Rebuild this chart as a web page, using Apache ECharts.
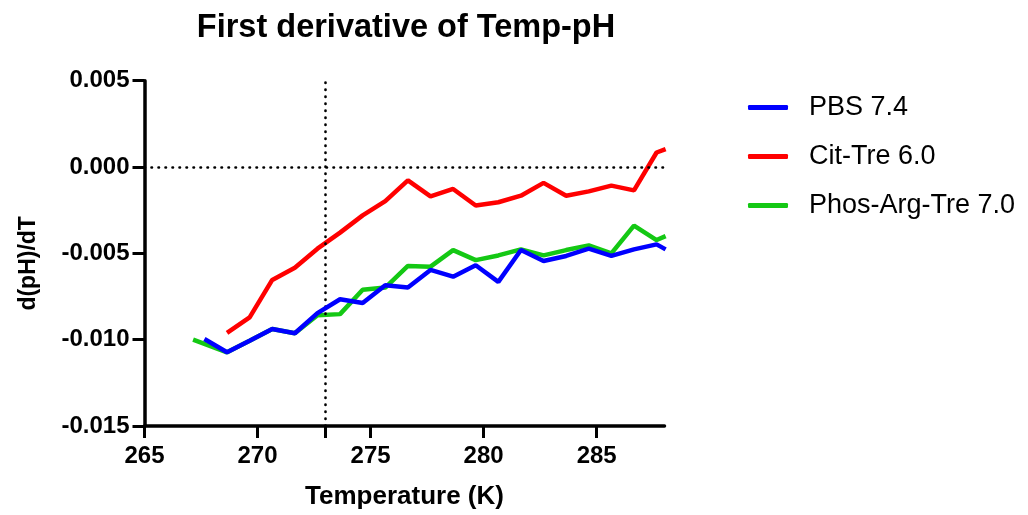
<!DOCTYPE html>
<html>
<head>
<meta charset="utf-8">
<script src="https://cdn.jsdelivr.net/npm/echarts@6/dist/echarts.min.js"></script>
<style>html,body{margin:0;padding:0;background:#fff}#c{width:1028px;height:515px}</style>
</head>
<body>
<div id="c"></div>
<script>
var seriesNames = ['PBS 7.4', 'Cit-Tre 6.0', 'Phos-Arg-Tre 7.0'];
var pbsTemp = [267.65,268.65,269.65,270.65,271.65,272.65,273.65,274.65,275.65,276.65,277.65,278.65,279.65,280.65,281.65,282.65,283.65,284.65,285.65,286.65,287.65,288.05];
var pbsVal = [-0.00996,-0.01073,-0.01006,-0.00938,-0.00963,-0.00846,-0.00766,-0.00788,-0.00685,-0.00698,-0.00596,-0.00635,-0.00569,-0.00665,-0.00481,-0.00544,-0.00515,-0.00473,-0.00515,-0.00477,-0.00448,-0.00477];
var citTemp = [268.65,269.65,270.65,271.65,272.65,273.65,274.65,275.65,276.65,277.65,278.65,279.65,280.65,281.65,282.65,283.65,284.65,285.65,286.65,287.65,288.05];
var citVal = [-0.00961,-0.00871,-0.00654,-0.00583,-0.00473,-0.00380,-0.00280,-0.00198,-0.00077,-0.00170,-0.00127,-0.00223,-0.00204,-0.00166,-0.00092,-0.00166,-0.00141,-0.00108,-0.00135,0.00084,0.00104];
var phosTemp = [267.15,268.65,269.65,270.65,271.65,272.65,273.65,274.65,275.65,276.65,277.65,278.65,279.65,280.65,281.65,282.65,283.65,284.65,285.65,286.65,287.65,288.05];
var phosVal = [-0.01000,-0.01073,-0.01006,-0.00938,-0.00963,-0.00858,-0.00852,-0.00711,-0.00698,-0.00573,-0.00577,-0.00481,-0.00539,-0.00512,-0.00477,-0.00512,-0.00481,-0.00454,-0.00500,-0.00339,-0.00423,-0.00400];
var xTicks = [265, 270, 275, 280, 285];
var xTickMarks = [265, 270, 273, 275, 280, 285];
var freezeT = 273;
var colors = ['#0000ff', '#ff0000', '#14c814'];

function pairs(t, v) { return t.map(function (x, i) { return [x, v[i]]; }); }

var chart = echarts.init(document.getElementById('c'));
var font = 'Liberation Sans, Arial, sans-serif';
chart.setOption({
  animation: false,
  title: {
    text: 'First derivative of Temp-pH',
    left: 401, top: 7, textAlign: 'center',
    textStyle: { fontFamily: font, fontWeight: 'bold', fontSize: 32.5, color: '#000' }
  },
  legend: {
    orient: 'vertical', left: 743, top: 89, itemGap: 22,
    itemWidth: 40, itemHeight: 5, icon: 'roundRect',
    textStyle: { fontFamily: font, fontSize: 27, color: '#000', padding: [0, 0, 0, 16], lineHeight: 27 },
    data: seriesNames
  },
  grid: { left: 144.5, right: 363.5, top: 80.7, bottom: 87.7, containLabel: false },
  xAxis: {
    type: 'value', min: 265, max: 288, interval: 5,
    name: 'Temperature (K)', nameLocation: 'middle', nameGap: 58,
    nameTextStyle: { fontFamily: font, fontWeight: 'bold', fontSize: 26, color: '#000' },
    axisLine: { onZero: false, lineStyle: { color: '#000', width: 3.5 } },
    axisTick: { length: 12, customValues: xTickMarks, lineStyle: { color: '#000', width: 3 } },
    axisLabel: { fontFamily: font, fontWeight: 'bold', fontSize: 24, color: '#000', margin: 18,
      customValues: xTicks },
    splitLine: { show: false }
  },
  yAxis: {
    type: 'value', min: -0.015, max: 0.005, interval: 0.005,
    name: 'd(pH)/dT', nameLocation: 'middle', nameGap: 104,
    nameTextStyle: { fontFamily: font, fontWeight: 'bold', fontSize: 23, color: '#000', padding: [0, 0, 0, -20] },
    axisLine: { lineStyle: { color: '#000', width: 3.5 } },
    axisTick: { length: 12, lineStyle: { color: '#000', width: 3 } },
    axisLabel: { fontFamily: font, fontWeight: 'bold', fontSize: 24, color: '#000', margin: 15,
      formatter: function (v) { return v.toFixed(3); } },
    splitLine: { show: false }
  },
  series: [
    { name: seriesNames[0], type: 'line', data: pairs(pbsTemp, pbsVal), symbol: 'none', z: 5,
      lineStyle: { color: colors[0], width: 4.5 }, itemStyle: { color: colors[0] } },
    { name: seriesNames[1], type: 'line', data: pairs(citTemp, citVal), symbol: 'none', z: 4,
      lineStyle: { color: colors[1], width: 4.5 }, itemStyle: { color: colors[1] } },
    { name: seriesNames[2], type: 'line', data: pairs(phosTemp, phosVal), symbol: 'none', z: 3,
      lineStyle: { color: colors[2], width: 4.5 }, itemStyle: { color: colors[2] },
      markLine: {
        silent: true, symbol: 'none', label: { show: false },
        lineStyle: { color: '#000', type: [0.5, 6.5], width: 2.6, cap: 'round' },
        data: [{ xAxis: freezeT }, { yAxis: 0 }]
      }
    }
  ]
});
</script>
</body>
</html>
